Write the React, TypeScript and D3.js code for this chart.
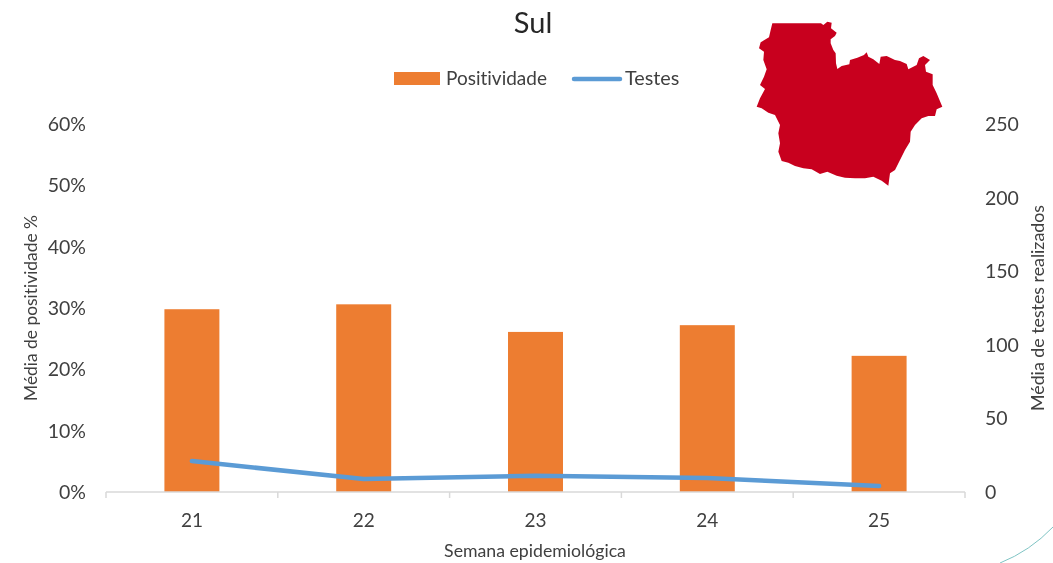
import React, { useEffect, useRef } from "react";
import * as d3 from "d3";

const weeks = ["21", "22", "23", "24", "25"];
const positividade = [29.8, 30.6, 26.1, 27.2, 22.2];
const testes = [21, 8.8, 11, 9.5, 4];
const leftTicks = [0, 10, 20, 30, 40, 50, 60];
const rightTicks = [0, 50, 100, 150, 200, 250];

// map outline, traced in the 3x zoom of the picture
const mapOutline: [number, number][] = [
  [97, 40], [243, 40], [250, 45], [262, 35], [275, 38], [273, 55], [290, 68], [285, 78], [272, 88],
  [272, 100], [280, 120], [287, 130], [288, 160], [292, 177], [305, 168], [328, 163], [330, 150],
  [352, 143], [372, 135], [380, 127], [385, 140], [400, 148], [418, 162], [422, 140], [440, 138],
  [465, 150], [480, 153], [500, 162], [505, 178], [530, 165], [537, 145], [550, 138], [570, 150],
  [555, 165], [558, 185], [578, 193], [578, 225], [590, 250], [607, 290], [590, 298], [585, 318],
  [565, 318], [545, 325], [525, 345], [512, 365], [510, 395], [495, 420], [480, 450], [465, 480],
  [450, 490], [445, 527], [425, 512], [400, 500], [375, 505], [345, 505], [315, 503], [290, 497],
  [262, 485], [240, 492], [215, 478], [190, 475], [165, 468], [145, 458], [125, 453], [115, 425],
  [120, 400], [115, 370], [120, 345], [105, 315], [85, 308], [65, 295], [50, 290], [60, 265],
  [75, 237], [60, 225], [72, 200], [80, 178], [70, 150], [72, 125], [57, 115], [62, 97], [87, 82],
  [92, 60],
];

const width = 1053;
const height = 563;
const plot = { left: 106, right: 965, top: 124, bottom: 492 };
const font = "Lato, Carlito, sans-serif";
const textColor = "#404040";
const orange = "#ED7D31";
const blue = "#5B9BD5";

function App() {
  const svgRef = useRef<SVGSVGElement>(null);

  useEffect(() => {
    const svg = d3.select(svgRef.current);
    svg.selectAll("*").remove();

    const x = d3.scaleBand().domain(weeks).range([plot.left, plot.right]).paddingInner(0.68).paddingOuter(0.34);
    const band = d3.scaleBand().domain(weeks).range([plot.left, plot.right]);
    const yLeft = d3.scaleLinear().domain([0, 60]).range([plot.bottom, plot.top]);
    const yRight = d3.scaleLinear().domain([0, 250]).range([plot.bottom, plot.top]);

    // bars
    svg
      .selectAll(".bar")
      .data(weeks)
      .enter()
      .append("rect")
      .attr("class", "bar")
      .attr("x", (d) => band(d)! + band.bandwidth() / 2 - x.bandwidth() / 2)
      .attr("y", (_, i) => yLeft(positividade[i]))
      .attr("width", x.bandwidth())
      .attr("height", (_, i) => plot.bottom - yLeft(positividade[i]))
      .attr("fill", orange);

    // x axis, ticks sit on the band edges
    const axisG = svg.append("g").attr("transform", `translate(0,${plot.bottom})`);
    axisG
      .append("line")
      .attr("x1", plot.left)
      .attr("x2", plot.right)
      .attr("stroke", "#D9D9D9")
      .attr("stroke-width", 1.5);
    axisG
      .selectAll(".edge")
      .data([...weeks.map((d) => band(d)!), plot.right])
      .enter()
      .append("line")
      .attr("class", "edge")
      .attr("x1", (d) => d)
      .attr("x2", (d) => d)
      .attr("y2", 6)
      .attr("stroke", "#D9D9D9")
      .attr("stroke-width", 1.5);
    axisG
      .selectAll(".week")
      .data(weeks)
      .enter()
      .append("text")
      .attr("class", "week")
      .attr("x", (d) => band(d)! + band.bandwidth() / 2)
      .attr("y", 35)
      .attr("text-anchor", "middle")
      .attr("font-size", 19)
      .attr("fill", textColor)
      .text((d) => d);

    // left and right tick labels
    svg
      .selectAll(".left-tick")
      .data(leftTicks)
      .enter()
      .append("text")
      .attr("class", "left-tick")
      .attr("x", 86)
      .attr("y", (d) => yLeft(d) + 7)
      .attr("text-anchor", "end")
      .attr("font-size", 19.5)
      .attr("fill", textColor)
      .text((d) => `${d}%`);
    svg
      .selectAll(".right-tick")
      .data(rightTicks)
      .enter()
      .append("text")
      .attr("class", "right-tick")
      .attr("x", 985)
      .attr("y", (d) => yRight(d) + 7)
      .attr("font-size", 19.5)
      .attr("fill", textColor)
      .text((d) => d);

    // line
    const line = d3
      .line<number>()
      .x((_, i) => band(weeks[i])! + band.bandwidth() / 2)
      .y((d) => yRight(d));
    svg
      .append("path")
      .attr("d", line(testes))
      .attr("fill", "none")
      .attr("stroke", blue)
      .attr("stroke-width", 4.5)
      .attr("stroke-linecap", "round")
      .attr("stroke-linejoin", "round");

    // map
    const mapLine = d3
      .line<[number, number]>()
      .x((d) => 740 + d[0] / 3)
      .y((d) => 10 + d[1] / 3)
      .curve(d3.curveLinearClosed);
    svg.append("path").attr("d", mapLine(mapOutline)).attr("fill", "#C8001E");

    // titles
    const addText = (t: string, tx: number, ty: number, size: number, rotate?: number, anchor = "middle") =>
      svg
        .append("text")
        .attr("transform", `translate(${tx},${ty})${rotate ? ` rotate(${rotate})` : ""}`)
        .attr("text-anchor", anchor)
        .attr("font-size", size)
        .attr("fill", textColor)
        .text(t);
    addText("Sul", 533, 33, 29).attr("fill", "#262626");
    addText("Semana epidemiológica", 535, 557, 17.7);
    addText("Média de positividade %", 37, 308, 17.4, -90);
    addText("Média de testes realizados", 1044, 308, 17.8, -90);

    // legend
    svg.append("rect").attr("x", 394).attr("y", 72).attr("width", 46).attr("height", 13).attr("fill", orange);
    addText("Positividade", 446, 85, 19, undefined, "start");
    svg
      .append("line")
      .attr("x1", 574)
      .attr("x2", 620)
      .attr("y1", 79)
      .attr("y2", 79)
      .attr("stroke", blue)
      .attr("stroke-width", 4.5)
      .attr("stroke-linecap", "round");
    addText("Testes", 625, 85, 19.8, undefined, "start");

    // slide decoration at the corner
    svg
      .append("path")
      .attr("d", "M1000,563 Q1030,551 1053,527")
      .attr("fill", "none")
      .attr("stroke", "#7FC4C4")
      .attr("stroke-width", 1);
  }, []);

  return (
    <svg
      ref={svgRef}
      width={width}
      height={height}
      style={{
        position: "absolute",
        left: 0,
        top: 0,
        background: "#fff",
        fontFamily: font,
        fontVariantLigatures: "none",
        filter: "blur(0.4px)",
      }}
    ></svg>
  );
}

export default App;
